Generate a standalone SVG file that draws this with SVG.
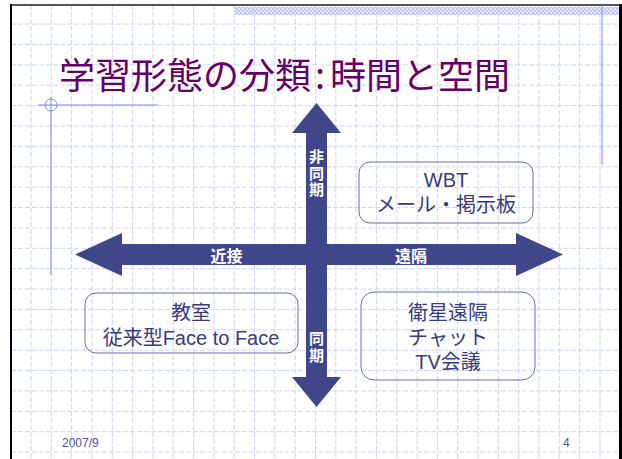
<svg xmlns="http://www.w3.org/2000/svg" width="622" height="459" viewBox="0 0 622 459">
<style>
.grid{stroke:#cdd6f6;stroke-width:1;stroke-dasharray:5 2;fill:none}
.deco{stroke:#7b8ee6;stroke-width:1;fill:none}
.arrow{fill:#40468a}
.alabel{font-family:"Noto Sans CJK JP",sans-serif;font-weight:bold;font-size:16px;fill:#ffffff;text-anchor:middle}
.vlabel{font-family:"Noto Sans CJK JP",sans-serif;font-weight:bold;font-size:15px;fill:#ffffff;writing-mode:vertical-rl;letter-spacing:1.5px}
.box{fill:none;stroke:#6a6ea6;stroke-width:1}
.btext{font-family:"Liberation Sans","Noto Sans CJK JP",sans-serif;font-size:20px;fill:#383b7c;text-anchor:middle}
.foot{font-family:"Liberation Sans",sans-serif;font-size:12px;fill:#50549a}
</style>
<defs>
<pattern id="hatch" width="4" height="4" patternUnits="userSpaceOnUse">
<rect width="4" height="4" fill="#dfe5fa"/>
<rect width="2" height="2" fill="#bcc8f2"/>
<rect x="2" y="2" width="2" height="2" fill="#bcc8f2"/>
</pattern>
</defs>
<rect width="622" height="459" fill="#ffffff"/>
<g id="grid">
<path class="grid" d="M31,5V459M51.3,5V459M71.6,5V459M92,5V459M112.3,5V459M132.6,5V459M152.9,5V459M173.2,5V459M193.6,5V459M213.9,5V459M234.2,5V459M254.5,5V459M274.8,5V459M295.2,5V459M315.5,5V459M335.8,5V459M356.1,5V459M376.4,5V459M396.8,5V459M417.1,5V459M437.4,5V459M457.7,5V459M478,5V459M498.4,5V459M518.7,5V459M539,5V459M559.3,5V459M579.6,5V459M600,5V459"/>
<path class="grid" d="M11,24.1H619M11,44.5H619M11,64.9H619M11,85.2H619M11,105.6H619M11,126H619M11,146.4H619M11,166.8H619M11,187.1H619M11,207.5H619M11,227.9H619M11,248.3H619M11,268.7H619M11,289H619M11,309.4H619M11,329.8H619M11,350.2H619M11,370.6H619M11,390.9H619M11,411.3H619M11,431.7H619M11,452H619"/>
</g>
<rect x="234" y="7" width="385" height="8" fill="url(#hatch)"/>
<g id="frame">
<line x1="10" y1="5" x2="620" y2="5" stroke="#555555" stroke-width="2"/>
<line x1="11" y1="4" x2="11" y2="459" stroke="#000000" stroke-width="2"/>
<line x1="620.5" y1="4" x2="620.5" y2="459" stroke="#000000" stroke-width="3"/>
<line class="deco" x1="602" y1="5" x2="602" y2="165"/>
<line class="deco" x1="38" y1="105" x2="158" y2="105"/>
<line class="deco" x1="51" y1="97" x2="51" y2="275"/>
<circle class="deco" cx="51" cy="105" r="6"/>
</g>
<g id="title">
<text x="59" y="89" font-family="Noto Sans CJK JP, sans-serif" font-size="36" fill="#660066">学習形態の分類<tspan dx="4">:</tspan><tspan dx="5">時間と空間</tspan></text>
</g>
<g id="connectors">
<polygon class="arrow" points="75,254.5 122,233 122,244 516,244 516,233 563,254.5 516,276 516,265 122,265 122,276"/>
<polygon class="arrow" points="316.5,103 341,133 327,133 327,377 341,377 316.5,407 292,377 306,377 306,133 292,133"/>
<text class="vlabel" x="316.5" y="149">非同期</text>
<text class="vlabel" x="316.5" y="331">同期</text>
<text class="alabel" x="226.5" y="262">近接</text>
<text class="alabel" x="411" y="262">遠隔</text>
</g>
<g id="node-wbt">
<rect class="box" x="359" y="162" width="174" height="61" rx="11"/>
<text class="btext" x="446" y="187">WBT</text>
<text class="btext" x="446" y="212">メール・掲示板</text>
</g>
<g id="node-classroom">
<rect class="box" x="85" y="293" width="213" height="60" rx="11"/>
<text class="btext" x="191" y="320">教室</text>
<text class="btext" x="191" y="345">従来型Face to Face</text>
</g>
<g id="node-satellite">
<rect class="box" x="361" y="292" width="174" height="88" rx="13"/>
<text class="btext" x="448" y="320">衛星遠隔</text>
<text class="btext" x="448" y="345">チャット</text>
<text class="btext" x="448" y="369">TV会議</text>
</g>
<g id="footer">
<text class="foot" x="62" y="447">2007/9</text>
<text class="foot" x="563" y="447">4</text>
</g>
</svg>
